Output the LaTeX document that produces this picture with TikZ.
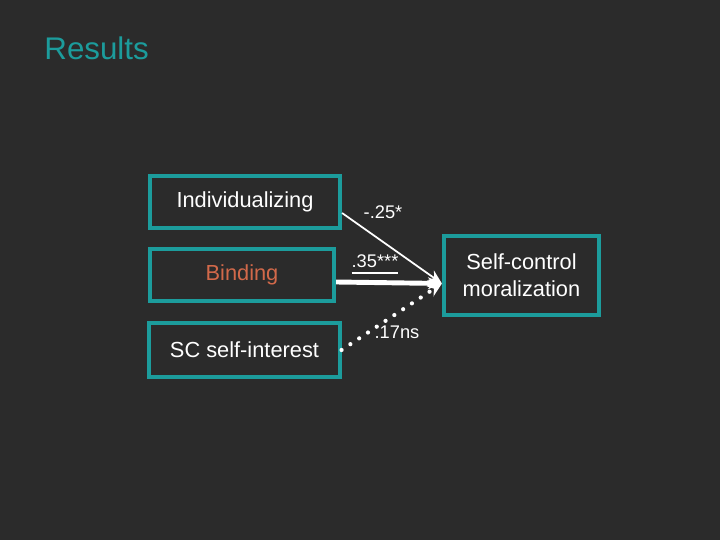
\documentclass[tikz,border=0pt]{standalone}
\usepackage{fontspec}
\setmainfont{Liberation Sans}
\usetikzlibrary{arrows.meta, positioning}
\definecolor{bgdark}{HTML}{2B2B2B}
\definecolor{tealline}{HTML}{1C9C9C}
\definecolor{bindorange}{HTML}{D2694A}

\begin{document}
\begin{tikzpicture}[
  x=0.01cm, y=-0.01cm,
  every node/.style={font=\fontsize{6.2}{7.6}\selectfont, text=white},
  factor/.style={rectangle, draw=tealline, line width=1.15pt, minimum width=1.9cm, minimum height=0.52cm, align=center, inner sep=0pt},
  effect/.style={draw=white, line width=0.5pt, -{Stealth[length=0.14cm, width=0.12cm]}},
  coef/.style={font=\fontsize{5.2}{6}\selectfont}
]

% background and title
\fill[bgdark] (0,0) rectangle (720,540);
\node[anchor=west, text=tealline, font=\fontsize{8.9}{10}\selectfont] (title) at (32,48) {Results};

% predictors
\node[factor] (ind) at (245,202) {Individualizing};
\node[factor, minimum width=1.84cm, text=bindorange] (bind) at (242,275) {Binding};
\node[factor, minimum height=0.54cm] (sc) at (244.5,350) {SC self-interest};

% outcome
\node[factor, minimum width=1.55cm, minimum height=0.79cm] (outc) at (521.5,275.5) {Self-control\\ moralization};
\coordinate (hub) at ([yshift=-0.08cm]outc.west);

% paths
\draw[effect] ([yshift=-0.11cm]ind.east) -- (hub);
\draw[effect, line width=1.4pt] ([yshift=-0.07cm]bind.east) -- (hub);
\draw[effect, line width=1.2pt, dash pattern=on 0pt off 3pt, line cap=round] (sc.east) -- (hub);

% coefficients
\node[coef] (c1) at (383,212) {-.25*};
\node[coef] (c2) at (375,265) {\underline{.35***}};
\node[coef] (c3) at (397,332) {.17ns};

\end{tikzpicture}
\end{document}
